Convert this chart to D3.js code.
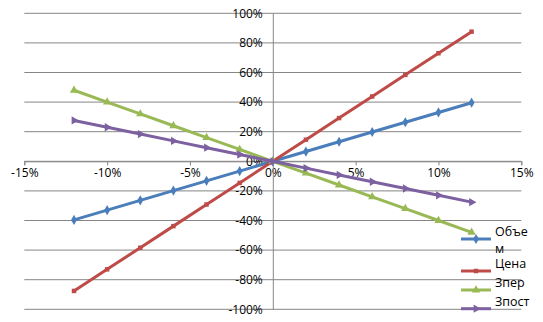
<!DOCTYPE html>
<html>
<head>
<meta charset="utf-8">
<script src="https://cdn.jsdelivr.net/npm/d3@7"></script>
<style>
  body { margin: 0; background: #fff; }
  text { font-family: "Open Sans", sans-serif; fill: #000; }
</style>
</head>
<body>
<div id="chart"></div>
<script>
// data (x and y in %)
const xVals = [-12, -10, -8, -6, -4, -2, 0, 2, 4, 6, 8, 10, 12];
const obem  = [-39.6, -33, -26.4, -19.8, -13.2, -6.6, 0, 6.6, 13.2, 19.8, 26.4, 33, 39.6];
const tsena = [-87.6, -73, -58.4, -43.8, -29.2, -14.6, 0, 14.6, 29.2, 43.8, 58.4, 73, 87.6];
const zper  = [48, 40, 32, 24, 16, 8, 0, -8, -16, -24, -32, -40, -48];
const zpost = [27.6, 23, 18.4, 13.8, 9.2, 4.6, 0, -4.6, -9.2, -13.8, -18.4, -23, -27.6];
const seriesNames = ["Объем", "Цена", "Зпер", "Зпост"];
const xTicks = [-15, -10, -5, 0, 5, 10, 15];
const yTicks = [-100, -80, -60, -40, -20, 0, 20, 40, 60, 80, 100];

const series = [
  { name: seriesNames[0], values: obem,  color: "#4a7ebb", marker: "diamond" },
  { name: seriesNames[1], values: tsena, color: "#be4b48", marker: "square" },
  { name: seriesNames[2], values: zper,  color: "#98b954", marker: "triUp" },
  { name: seriesNames[3], values: zpost, color: "#7d60a0", marker: "triRight" }
];

const W = 543, H = 322;
const svg = d3.select("#chart").append("svg")
  .attr("width", W).attr("height", H);

const x = d3.scaleLinear().domain([-15, 15]).range([24.3, 521.3]);
const y = d3.scaleLinear().domain([-100, 100]).range([309.3, 13.3]);

// horizontal gridlines
svg.append("g").selectAll("line")
  .data(yTicks).enter().append("line")
  .attr("x1", x(-15)).attr("x2", x(15))
  .attr("y1", d => y(d)).attr("y2", d => y(d))
  .attr("stroke", "#868686").attr("stroke-width", 1);

// x axis at y=0, ticks going down
const xAxis = svg.append("g")
  .attr("transform", "translate(0," + y(0) + ")")
  .call(d3.axisBottom(x).tickValues(xTicks).tickSize(4).tickFormat(d => d + "%"));
xAxis.select(".domain").attr("stroke", "#868686");
xAxis.selectAll(".tick line").attr("stroke", "#868686");
xAxis.selectAll(".tick text")
  .attr("y", 7).attr("dy", "0.71em")
  .style("font-size", "12px").style("font-family", "Open Sans, sans-serif");

// y axis at x=0
const yAxis = svg.append("g")
  .attr("transform", "translate(" + x(0) + ",0)")
  .call(d3.axisLeft(y).tickValues(yTicks).tickSize(0).tickPadding(10).tickFormat(d => d + "%"));
yAxis.select(".domain").attr("stroke", "#868686");
yAxis.selectAll(".tick text")
  .style("font-size", "12px").style("font-family", "Open Sans, sans-serif");

// marker shapes
const symbolOf = {
  diamond: d3.symbol().type(d3.symbolDiamond).size(30),
  square: d3.symbol().type(d3.symbolSquare).size(20),
  triUp: d3.symbol().type(d3.symbolTriangle).size(30),
  triRight: d3.symbol().type(d3.symbolTriangle).size(30)
};
function markerTransform(m, px, py) {
  return "translate(" + px + "," + py + ")" + (m === "triRight" ? " rotate(90)" : "");
}

const line = d3.line()
  .x((d, i) => x(xVals[i]))
  .y(d => y(d));

series.forEach(s => {
  const g = svg.append("g");
  g.append("path")
    .datum(s.values)
    .attr("d", line)
    .attr("fill", "none")
    .attr("stroke", s.color)
    .attr("stroke-width", 3);
  g.selectAll("path.mk")
    .data(s.values).enter().append("path")
    .attr("class", "mk")
    .attr("d", symbolOf[s.marker])
    .attr("transform", (d, i) => markerTransform(s.marker, x(xVals[i]), y(d)))
    .attr("fill", s.color);
});

// legend
const legY = [239, 271, 290, 308.7];
const leg = svg.append("g");
series.forEach((s, i) => {
  const g = leg.append("g");
  g.append("line")
    .attr("x1", 461).attr("x2", 491)
    .attr("y1", legY[i]).attr("y2", legY[i])
    .attr("stroke", s.color).attr("stroke-width", 3);
  g.append("path")
    .attr("d", symbolOf[s.marker])
    .attr("transform", markerTransform(s.marker, 476, legY[i]))
    .attr("fill", s.color);
  if (i === 0) {
    // name wraps onto two lines in the original
    const t = g.append("text").attr("x", 495).attr("y", legY[i] - 7)
      .style("font-size", "12.5px");
    t.append("tspan").attr("x", 495).attr("dy", "0.35em").text(s.name.slice(0, 4));
    t.append("tspan").attr("x", 495).attr("dy", "1.3em").text(s.name.slice(4));
  } else {
    g.append("text").attr("x", 495).attr("y", legY[i] - 7)
      .attr("dy", "0.35em")
      .style("font-size", "12.5px")
      .text(s.name);
  }
});
</script>
</body>
</html>
